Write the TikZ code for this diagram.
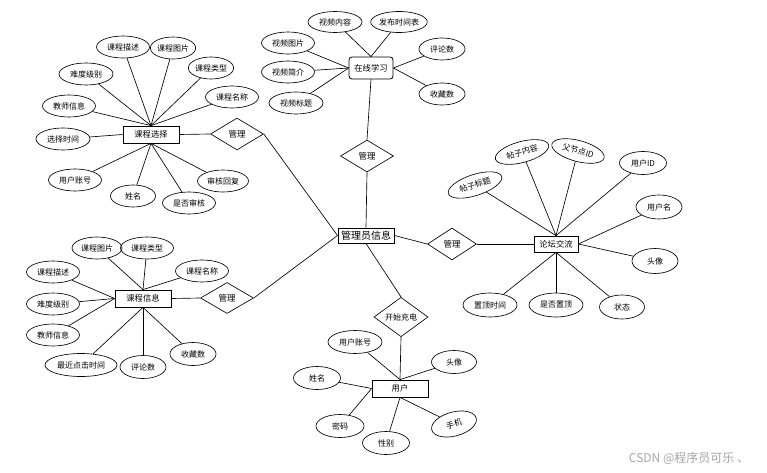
\documentclass[tikz,border=0pt]{standalone}
\usepackage{fontspec}
\newfontfamily\cjk{Noto Sans CJK SC}
\usetikzlibrary{shapes.geometric}
\begin{document}
\begin{tikzpicture}[x=1pt,y=-1pt,
  font=\cjk\fontsize{8}{9}\selectfont,
  attr/.style={ellipse,draw,line width=0.65pt,minimum height=22pt,inner sep=0pt},
  ent/.style={rectangle,draw,line width=0.8pt,inner sep=0pt,minimum width=56pt,minimum height=17pt,font=\cjk\fontsize{8.3}{9}\selectfont},
  rel/.style={diamond,draw,line width=0.65pt,inner sep=0pt,minimum width=53pt,minimum height=32pt,font=\cjk\fontsize{8.5}{9}\selectfont},
  ln/.style={line width=0.65pt}]
\useasboundingbox[fill=white] (0,0) rectangle (767,473);

% ---------- entities ----------
\node[ent] (kcxz) at (151,134.5) {课程选择};
\node[ent,minimum width=44pt,minimum height=22pt,rounded corners=3pt] (zxxx) at (371,68) {在线学习};
\node[ent,minimum width=44pt,minimum height=16pt] (ltjl) at (556,244) {论坛交流};
\node[ent] (kcxx) at (143,298.5) {课程信息};
\node[ent,minimum height=15pt,line width=1pt,font=\cjk\fontsize{10}{11}\selectfont] (gly) at (366,235.5) {管理员信息};
\node[ent] (yh) at (400,388.5) {用户};

% ---------- relations ----------
\node[rel] (m1) at (237,134) {管理};
\node[rel] (m2) at (367,156) {管理};
\node[rel,minimum width=49pt] (m3) at (452,244) {管理};
\node[rel,minimum height=31pt] (m4) at (227,298) {管理};
\node[rel,minimum width=54pt,minimum height=31pt,font=\cjk\fontsize{8}{9}\selectfont] (kscd) at (401,317) {开始充电};

% ---------- 课程选择 attributes ----------
\node[attr,minimum width=53pt] (a1) at (123,47) {课程描述};
\node[attr,minimum width=44pt] (a2) at (173,48) {课程图片};
\node[attr,minimum width=44pt] (a3) at (211,68) {课程类型};
\node[attr,minimum width=53pt] (a4) at (232,97) {课程名称};
\node[attr,minimum width=54pt] (a5) at (86,74) {难度级别};
\node[attr,minimum width=53pt] (a6) at (69,106) {教师信息};
\node[attr,minimum width=54pt] (a7) at (63,139) {选择时间};
\node[attr,minimum width=53pt] (a8) at (75,180) {用户账号};
\node[attr,minimum width=45pt] (a9) at (133,196) {姓名};
\node[attr,minimum width=53pt] (a10) at (189,203) {是否审核};
\node[attr,minimum width=51pt] (a11) at (223,181) {审核回复};
\foreach \n in {a1,a2,a3,a4,a5,a6} \draw[ln] (\n) -- (kcxz.north);
\draw[ln] (a7) -- (kcxz.west);
\foreach \n in {a8,a9,a10,a11} \draw[ln] (\n) -- (kcxz.south);

% ---------- 在线学习 attributes ----------
\node[attr,minimum width=54pt,minimum height=21pt] (b1) at (335,22) {视频内容};
\node[attr,minimum width=53pt,minimum height=21pt] (b2) at (399,22) {发布时间表};
\node[attr,minimum width=53pt] (b3) at (288,43) {视频图片};
\node[attr,minimum width=53pt] (b4) at (288,72) {视频简介};
\node[attr,minimum width=54pt] (b5) at (296,103) {视频标题};
\node[attr,minimum width=46pt] (b6) at (442,49) {评论数};
\node[attr,minimum width=46pt] (b7) at (442,94) {收藏数};
\foreach \n in {b1,b2} \draw[ln] (\n) -- (zxxx.north);
\foreach \n in {b3,b4,b5} \draw[ln] (\n) -- (zxxx.west);
\foreach \n in {b6,b7} \draw[ln] (\n) -- (zxxx.east);

% ---------- 论坛交流 attributes ----------
\node[attr,minimum width=56pt,minimum height=21pt,rotate=18] (c1) at (475,185) {帖子标题};
\node[attr,minimum width=55pt,minimum height=21pt,rotate=15] (c2) at (522,152) {帖子内容};
\node[attr,minimum width=54pt,minimum height=21pt,rotate=-15] (c3) at (578,151) {父节点ID};
\node[attr,minimum width=47pt,minimum height=23pt] (c4) at (643,163) {用户ID};
\node[attr,minimum width=46pt,minimum height=24pt] (c5) at (659,207) {用户名};
\node[attr,minimum width=46pt,minimum height=25pt] (c6) at (655,261) {头像};
\node[attr,minimum width=54pt,minimum height=24pt] (c7) at (490,305) {置顶时间};
\node[attr,minimum width=54pt,minimum height=24pt] (c8) at (556,305) {是否置顶};
\node[attr,minimum width=45pt,minimum height=24pt] (c9) at (622,307) {状态};
\foreach \n in {c1,c2,c3,c4} \draw[ln] (\n) -- (ltjl.north);
\foreach \n in {c5,c6} \draw[ln] (\n) -- (ltjl.east);
\foreach \n in {c7,c8,c9} \draw[ln] (\n) -- (ltjl.south);

% ---------- 课程信息 attributes ----------
\node[attr,minimum width=50pt] (d1) at (97,248) {课程图片};
\node[attr,minimum width=53pt] (d2) at (147,248) {课程类型};
\node[attr,minimum width=53pt] (d3) at (202,271) {课程名称};
\node[attr,minimum width=53pt] (d4) at (53,272) {课程描述};
\node[attr,minimum width=53pt] (d5) at (53,304) {难度级别};
\node[attr,minimum width=53pt] (d6) at (53,335) {教师信息};
\node[attr,minimum width=72pt,minimum height=23pt] (d7) at (81,365) {最近点击时间};
\node[attr,minimum width=46pt,minimum height=23pt] (d8) at (143,367) {评论数};
\node[attr,minimum width=46pt,minimum height=23pt] (d9) at (193,354) {收藏数};
\foreach \n in {d1,d2,d3} \draw[ln] (\n) -- (kcxx.north);
\foreach \n in {d4,d5,d6} \draw[ln] (\n) -- (kcxx.west);
\foreach \n in {d7,d8,d9} \draw[ln] (\n) -- (kcxx.south);

% ---------- 用户 attributes ----------
\node[attr,minimum width=54pt,minimum height=23pt] (e1) at (355,342) {用户账号};
\node[attr,minimum width=45pt,minimum height=23pt] (e2) at (454,362) {头像};
\node[attr,minimum width=47pt,minimum height=23pt] (e3) at (317,378) {姓名};
\node[attr,minimum width=48pt,minimum height=23pt] (e4) at (340,426) {密码};
\node[attr,minimum width=47pt,minimum height=23pt] (e5) at (386,443) {性别};
\node[attr,minimum width=46pt,minimum height=24pt,rotate=15] (e6) at (454,424) {手机};
\foreach \n in {e1,e2} \draw[ln] (\n) -- (yh.north);
\foreach \n in {e3,e4} \draw[ln] (\n) -- (yh.west);
\foreach \n in {e5,e6} \draw[ln] (\n) -- (yh.south);

% ---------- relation links ----------
\draw[ln] (kcxz.east) -- (m1.west);
\draw[ln] (m1.east) -- (gly.west);
\draw[ln] (zxxx.south) -- (m2.north);
\draw[ln] (m2.south) -- (gly.north);
\draw[ln] (gly.east) -- (m3.west);
\draw[ln] (m3.east) -- (ltjl.west);
\draw[ln] (kcxx.east) -- (m4.west);
\draw[ln] (m4.east) -- (gly.west);
\draw[ln] (gly.south) -- (kscd.north);
\draw[ln] (kscd.south) -- (yh.north);

% ---------- watermark ----------
\node[text=black!35,font=\cjk\fontsize{12}{14}\selectfont,inner sep=0pt] (wm) at (689,458) {CSDN @程序员可乐 、};
\end{tikzpicture}
\end{document}
